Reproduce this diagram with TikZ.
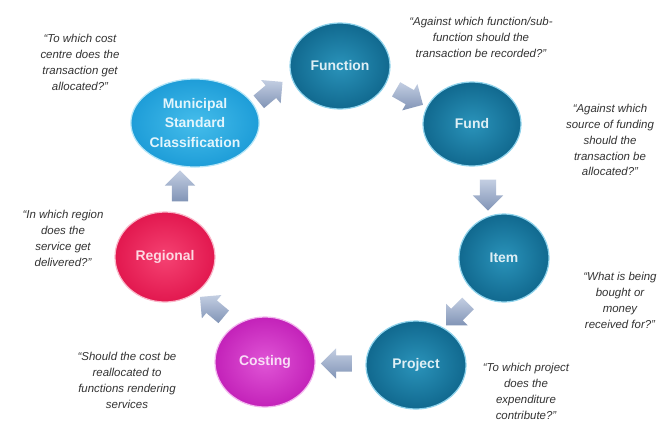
\documentclass[tikz,border=0pt]{standalone}
\usepackage{fontspec}
\setmainfont{Liberation Sans}
\usetikzlibrary{shapes.geometric,shapes.arrows,calc}
\definecolor{dkin}{HTML}{2A93BA}\definecolor{dkout}{HTML}{11698F}\definecolor{dkrim}{HTML}{8FD3EC}
\definecolor{skin}{HTML}{45BDEB}\definecolor{skout}{HTML}{1E9DD8}\definecolor{skrim}{HTML}{B5E6F8}
\definecolor{rdin}{HTML}{F54272}\definecolor{rdout}{HTML}{E2184F}\definecolor{rdrim}{HTML}{F9B6C8}
\definecolor{mgin}{HTML}{E055D6}\definecolor{mgout}{HTML}{C322B9}\definecolor{mgrim}{HTML}{F2B6EE}
\definecolor{asktext}{HTML}{333333}
\definecolor{flowtop}{HTML}{C3CEE2}\definecolor{flowbot}{HTML}{8194B6}
\tikzset{
  stage/.style={ellipse, inner sep=0pt, minimum width=100bp, minimum height=86bp, align=center,
    inner color=#1in, outer color=#1out, draw=#1rim, line width=1.2bp,
    font=\bfseries\fontsize{14}{20}\selectfont},
  flow/.style={single arrow, single arrow head extend=7bp, inner sep=8bp, minimum height=31bp,
    top color=flowtop, bottom color=flowbot, draw=none},
  ask/.style={align=center, text=asktext, font=\itshape\fontsize{11.5}{16}\selectfont}
}
\begin{document}
\begin{tikzpicture}[x=1bp, y=-1bp, line join=round]
\fill[white] (0,0) rectangle (663,423);
\useasboundingbox (0,0) rectangle (663,423);
% the seven stages
\node[stage=sk, minimum width=128bp, minimum height=88bp, text=white!85!skin] (msc) at (195,123) {Municipal\\Standard\\Classification};
\node[stage=dk, text=white!85!dkin] (func) at (340,66) {Function};
\node[stage=dk, minimum width=98bp, minimum height=84bp, text=white!85!dkin] (fund) at (472,124) {Fund};
\node[stage=dk, minimum width=90bp, minimum height=88bp, text=white!85!dkin] (item) at (504,258) {Item};
\node[stage=dk, minimum width=100bp, minimum height=88bp, text=white!85!dkin] (proj) at (416,365) {Project};
\node[stage=mg, minimum height=90bp, text=white!80!mgin] (cost) at (265,362) {Costing};
\node[stage=rd, minimum width=100bp, minimum height=90bp, text=white!80!rdin] (reg) at (165,257) {Regional};
% arrows round the cycle
\foreach \a/\b/\r in {msc/func/40, func/fund/-30, fund/item/-90, item/proj/-135, proj/cost/180, cost/reg/140, reg/msc/90}
  \node[flow, rotate=\r] (\a-\b) at ($(\a)!0.5!(\b)$) {};
% questions
\node[ask] (q-msc) at (80,62) {“To which cost\\centre does the\\transaction get\\allocated?”};
\node[ask] (q-func) at (481,37) {“Against which function/sub-\\function should the\\transaction be recorded?”};
\node[ask] (q-fund) at (610,140) {“Against which\\source of funding\\should the\\transaction be\\allocated?”};
\node[ask] (q-item) at (620,300) {“What is being\\bought or\\money\\received for?”};
\node[ask] (q-proj) at (526,391) {“To which project\\does the\\expenditure\\contribute?”};
\node[ask] (q-cost) at (127,380) {“Should the cost be\\reallocated to\\functions rendering\\services};
\node[ask] (q-reg) at (63,238) {“In which region\\does the\\service get\\delivered?”};
\end{tikzpicture}
\end{document}
